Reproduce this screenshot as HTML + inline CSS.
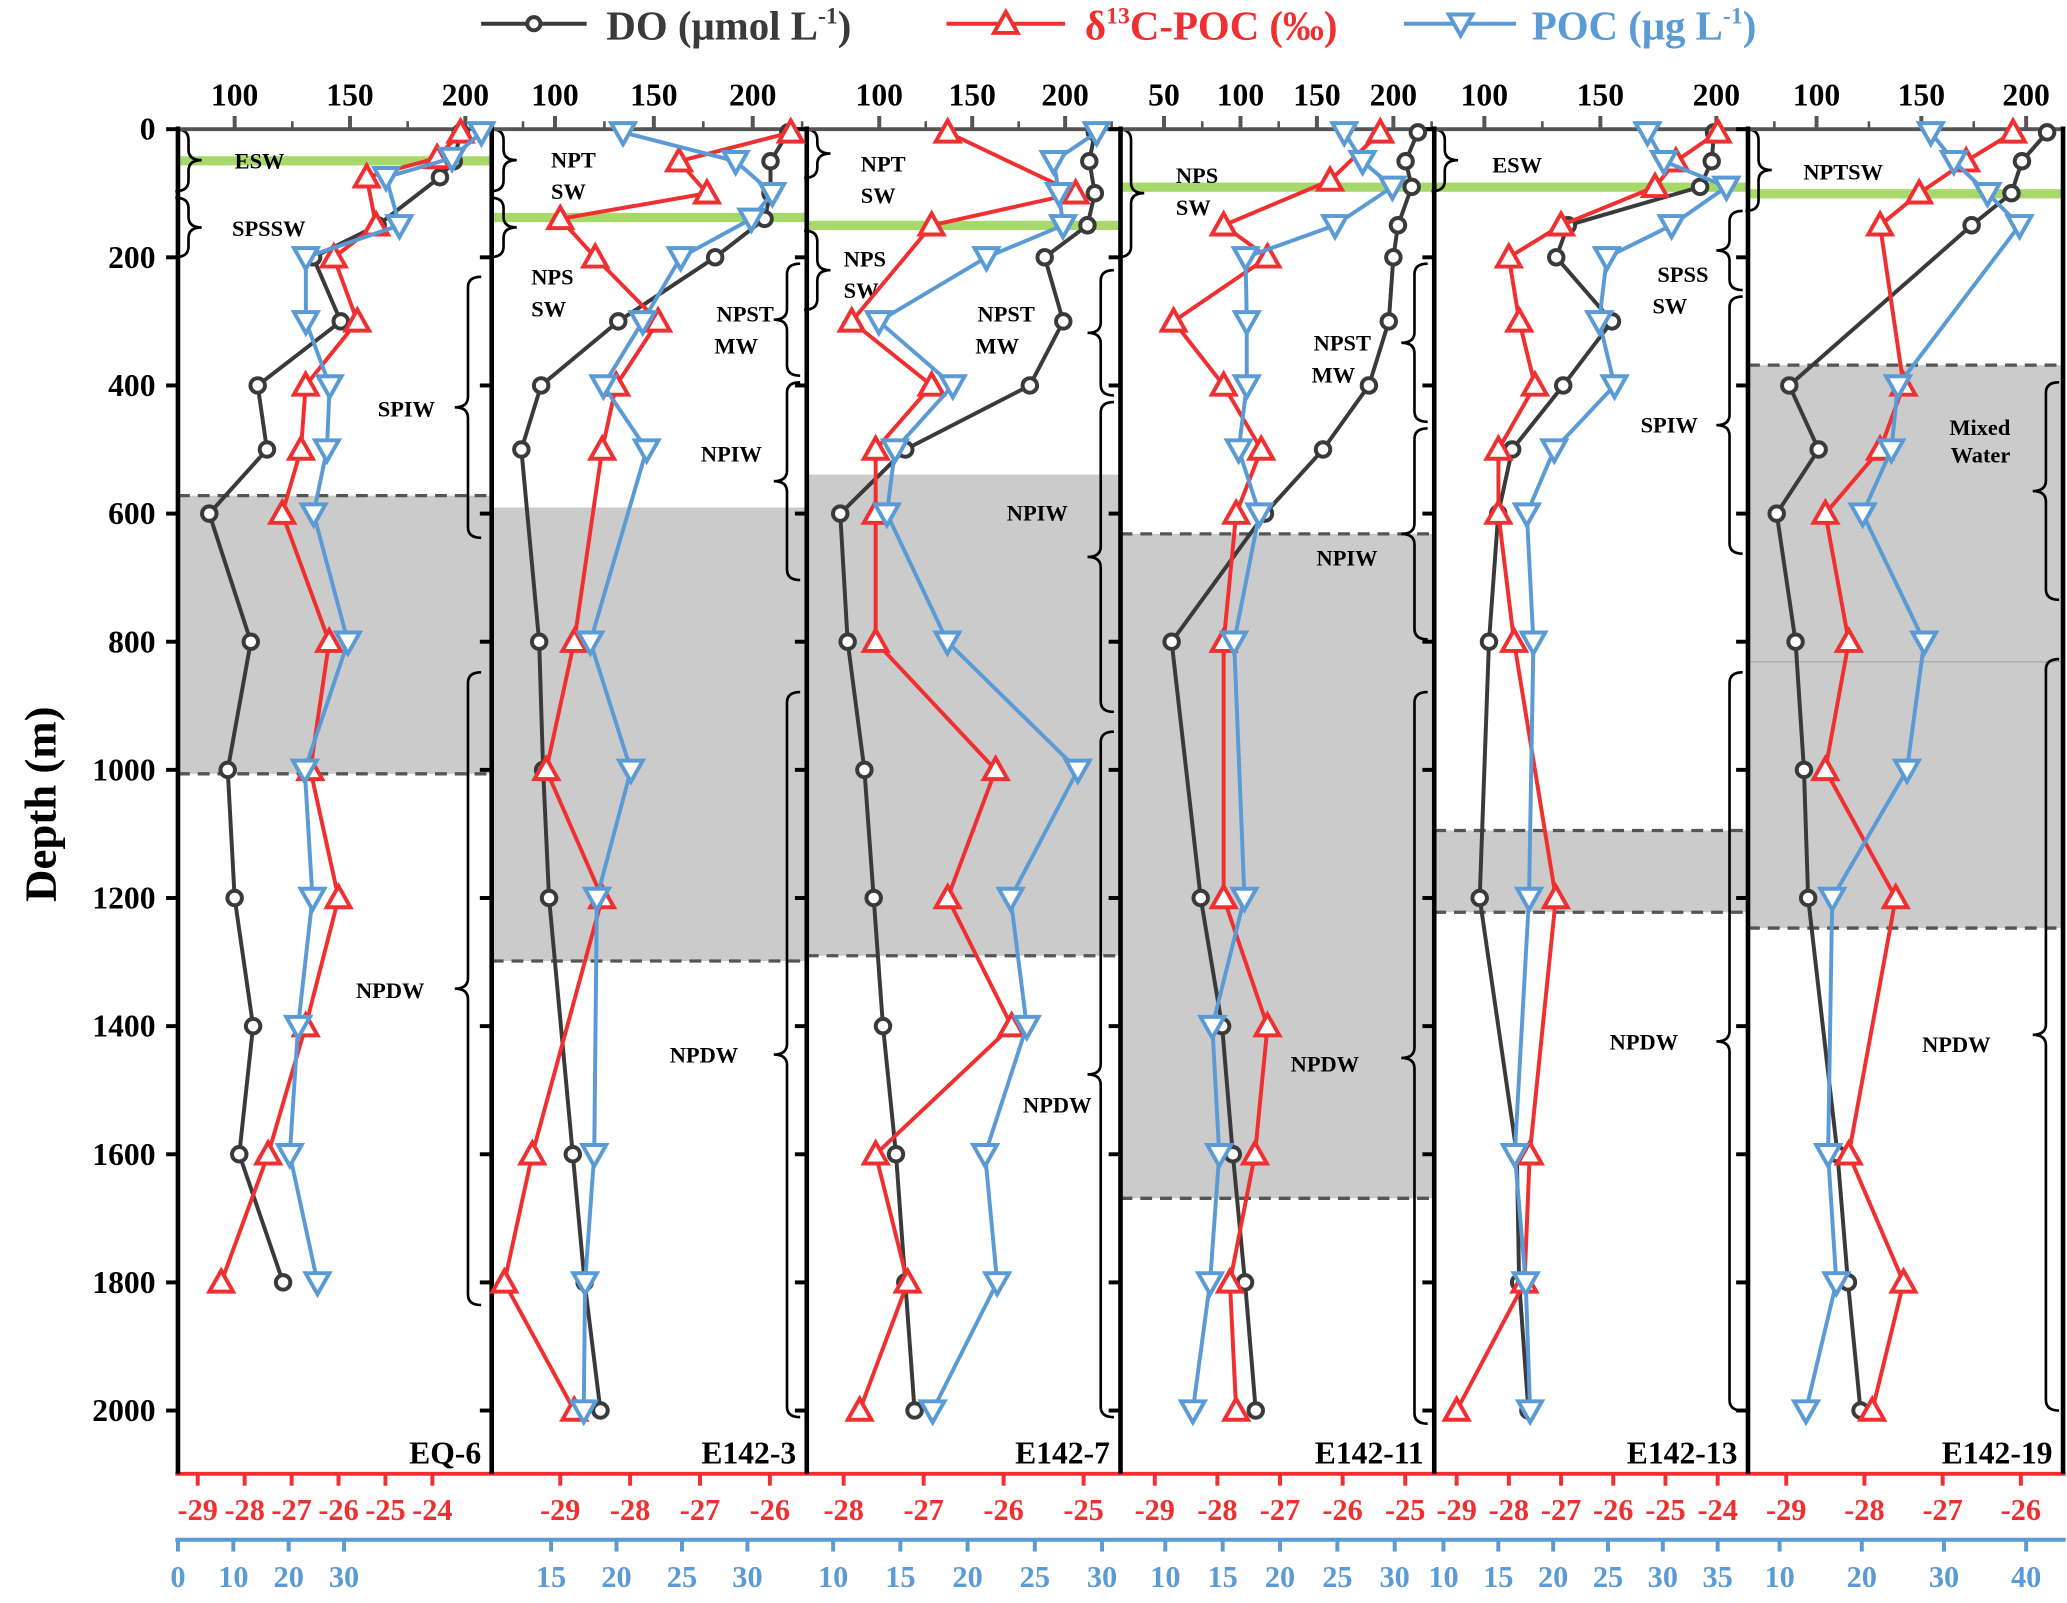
<!DOCTYPE html>
<html><head><meta charset="utf-8"><title>Depth profiles</title>
<style>
html,body{margin:0;padding:0;background:#fff;overflow:hidden;}
svg{display:block;}
text{font-family:"Liberation Serif",serif;font-weight:bold;}
</style></head>
<body>
<svg id="chart" width="2067" height="1603" viewBox="0 0 1568 1216" preserveAspectRatio="none" xmlns="http://www.w3.org/2000/svg">
<g id="bg"></g>
<g id="axes"></g>
<g id="marks"></g>
<g id="legend">
  <line x1="365" y1="18" x2="445" y2="18" stroke="#3a3a3a" stroke-width="3"/>
  <circle cx="405" cy="18" r="5" fill="#fff" stroke="#3a3a3a" stroke-width="3"/>
  <text x="460" y="30" font-size="31" fill="#3a3a3a">DO (μmol L<tspan dy="-12" font-size="18">-1</tspan><tspan dy="12">)</tspan></text>
  <line x1="718" y1="18" x2="808" y2="18" stroke="#f03030" stroke-width="3"/>
  <polygon points="763,9 772,25 754,25" fill="#fff" stroke="#f03030" stroke-width="3"/>
  <text x="823" y="30" font-size="31" fill="#f03030">δ<tspan dy="-12" font-size="18">13</tspan><tspan dy="12">C-POC (‰)</tspan></text>
  <line x1="1065" y1="18" x2="1150" y2="18" stroke="#5b9bd5" stroke-width="3"/>
  <polygon points="1099,11 1117,11 1108,27" fill="#fff" stroke="#5b9bd5" stroke-width="3"/>
  <text x="1162" y="30" font-size="31" fill="#5b9bd5">POC (μg L<tspan dy="-12" font-size="18">-1</tspan><tspan dy="12">)</tspan></text>
</g>
<text transform="translate(42,610) rotate(-90)" text-anchor="middle" font-size="34" fill="#000">Depth (m)</text>
</svg>
<script>
// ---- Data ----
const depthTicks = [0,200,400,600,800,1000,1200,1400,1600,1800,2000];
const stationNames = ["EQ-6","E142-3","E142-7","E142-11","E142-13","E142-19"];

const eq6DoDepth = [5,50,75,150,200,300,400,500,600,800,1000,1200,1400,1600,1800];
const eq6Do = [198,195,189,162,134,146,110,114,89,107,97,100,108,102,121];
const eq6C13Depth = [5,45,75,150,200,300,400,500,600,800,1000,1200,1400,1600,1800];
const eq6C13 = [-23.4,-23.9,-25.4,-25.2,-26.1,-25.6,-26.7,-26.8,-27.2,-26.2,-26.6,-26.0,-26.7,-27.5,-28.5];
const eq6PocDepth = [5,45,75,150,200,300,400,500,600,800,1000,1200,1400,1600,1800];
const eq6Poc = [54.8,49.5,37.6,40.0,23.1,23.1,27.4,26.9,24.5,30.7,22.9,24.3,21.7,20.2,25.2];

const e3Depth = [5,50,100,140,200,300,400,500,800,1000,1200,1600,1800,2000];
const e3Do = [218,209,209,206,181,132,93,83,92,94,97,109,115,123];
const e3C13 = [-25.7,-27.3,-26.9,-29.0,-28.5,-27.6,-28.2,-28.4,-28.8,-29.2,-28.4,-29.4,-29.8,-28.8];
const e3Poc = [20.5,29.1,31.9,30.3,24.9,22.0,19.0,22.3,18.0,21.1,18.5,18.3,17.6,17.5];

const e7Depth = [5,50,100,150,200,300,400,500,600,800,1000,1200,1400,1600,1800,2000];
const e7Do = [216,213,216,212,189,199,181,114,79,83,92,97,102,109,114,119];
const e7C13Depth = [5,100,150,300,400,500,600,800,1000,1200,1400,1600,1800,2000];
const e7C13 = [-26.7,-25.1,-26.9,-27.9,-26.9,-27.6,-27.6,-27.6,-26.1,-26.7,-25.9,-27.6,-27.2,-27.8];
const e7Poc = [29.6,26.4,26.8,27.1,21.4,13.4,18.9,14.6,14.0,18.5,28.2,23.2,24.4,21.3,22.2,17.4];

const e11Depth = [5,50,90,150,200,300,400,500,600,800,1200,1400,1600,1800,2000];
const e11Do = [216,208,212,203,200,197,184,154,116,55,74,88,95,103,110];
const e11C13Depth = [5,80,150,200,300,400,500,600,800,1200,1400,1600,1800,2000];
const e11C13 = [-25.4,-26.2,-27.9,-27.2,-28.7,-27.9,-27.3,-27.7,-27.9,-27.9,-27.2,-27.4,-27.8,-27.7];
const e11Poc = [25.6,27.2,29.8,24.8,17.0,17.1,17.1,16.4,18.2,16.0,16.9,14.1,14.7,13.9,12.4];

const e13Depth = [5,50,90,150,200,300,400,500,600,800,1200,1600,1800,2000];
const e13Do = [199,198,193,136,131,155,134,112,106,102,98,114,115,119];
const e13C13 = [-24.0,-24.8,-25.2,-27.0,-28.0,-27.8,-27.5,-28.2,-28.2,-27.9,-27.1,-27.6,-27.7,-29.0];
const e13Poc = [28.6,30.1,35.8,30.8,24.9,24.2,25.6,20.1,17.6,18.2,17.8,16.5,17.5,17.9];

const e19Depth = [5,50,100,150,400,500,600,800,1000,1200,1600,1800,2000];
const e19Do = [210,198,193,174,87,101,81,90,94,96,110,115,121];
const e19C13 = [-26.1,-26.7,-27.3,-27.8,-27.5,-27.8,-28.5,-28.2,-28.5,-27.6,-28.2,-27.5,-27.9];
const e19Poc = [28.4,31.2,35.3,39.2,24.4,23.6,20.1,27.6,25.5,16.4,15.9,16.9,13.2];

// Axis tick values
const doTicks = [[100,150,200],[100,150,200],[100,150,200],[50,100,150,200],[100,150,200],[100,150,200]];
const c13Ticks = [[-29,-28,-27,-26,-25,-24],[-29,-28,-27,-26],[-28,-27,-26,-25],[-29,-28,-27,-26,-25],[-29,-28,-27,-26,-25,-24],[-29,-28,-27,-26]];
const pocTicks = [[0,10,20,30],[15,20,25,30],[10,15,20,25,30],[10,15,20,25,30],[10,15,20,25,30,35],[10,20,30,40]];

// ---- Layout / calibration ----
const NS = "http://www.w3.org/2000/svg";
const edges = [135,373,612,850,1088,1326,1565];
const Y0 = 98, Y1 = 1070;
function yScale(d){ return Y0 + (d/2000)*(Y1-Y0); }
const doCal = [[100,178,200,353],[100,421,200,571],[100,667,200,808],[50,883,200,1057],[100,1126,200,1302],[100,1378,200,1537]];
const c13Cal = [[-29,150,-24,328],[-29,425,-26,584],[-28,640,-25,822],[-29,876,-25,1066],[-29,1105,-24,1303],[-29,1355,-26,1533]];
const pocCal = [[0,135,30,261],[15,418,30,567],[10,632,30,836],[10,884,30,1058],[10,1095,35,1303],[10,1350,40,1537]];
function mk(c){ return v => c[1] + (v-c[0])*(c[3]-c[1])/(c[2]-c[0]); }

const panels = [
 {do:[eq6DoDepth,eq6Do], c13:[eq6C13Depth,eq6C13], poc:[eq6PocDepth,eq6Poc]},
 {do:[e3Depth,e3Do], c13:[e3Depth,e3C13], poc:[e3Depth,e3Poc]},
 {do:[e7Depth,e7Do], c13:[e7C13Depth,e7C13], poc:[e7Depth,e7Poc]},
 {do:[e11Depth,e11Do], c13:[e11C13Depth,e11C13], poc:[e11Depth,e11Poc]},
 {do:[e13Depth,e13Do], c13:[e13Depth,e13C13], poc:[e13Depth,e13Poc]},
 {do:[e19Depth,e19Do], c13:[e19Depth,e19C13], poc:[e19Depth,e19Poc]}
];

function el(tag, attrs, parent){
  const e = document.createElementNS(NS, tag);
  for (const k in attrs) e.setAttribute(k, attrs[k]);
  parent.appendChild(e);
  return e;
}
const bg = document.getElementById('bg');
const axes = document.getElementById('axes');
const marks = document.getElementById('marks');

const shades = [[0,376,587,1,1],[1,385,729,0,1],[2,360,725,0,1],[3,405,909,1,1],[4,630,692,1,1],[5,277,704,1,1]];
shades.forEach(s=>{
  const r = el('rect',{x:edges[s[0]],y:s[1],width:edges[s[0]+1]-edges[s[0]],height:s[2]-s[1],fill:'#cbcbcb'},bg);
  
  
  [[s[1],s[3]],[s[2],s[4]]].forEach(p=>{
    if(!p[1]) return;
    const l = el('line',{x1:edges[s[0]],x2:edges[s[0]+1],y1:p[0],y2:p[0],stroke:'#555','stroke-width':2.5,'stroke-dasharray':'9,6'},bg);
    
    
  });
});
const l6 = el('line',{x1:1326,x2:1565,y1:502,y2:502,stroke:'#aaa','stroke-width':1},bg);


const greens = [[0,122],[1,165],[2,171],[3,142],[4,142],[5,147]];
greens.forEach(g=>{
  const r = el('rect',{x:edges[g[0]],y:g[1]-3.5,width:edges[g[0]+1]-edges[g[0]],height:7,fill:'#a6d96a'},bg);
  
  
});

const braces = [
 [143,98,145,1],[143,150,195,1],[355,210,408,-1],[355,510,990,-1],
 [382,98,145,1],[382,150,195,1],[597,200,285,-1],[597,290,440,-1],[597,525,1075,-1],
 [620,98,135,1],[620,175,235,1],[835,205,300,-1],[835,305,540,-1],[835,555,1075,-1],
 [858,98,195,1],[1073,200,320,-1],[1073,325,485,-1],[1073,525,1080,-1],
 [1096,98,145,1],[1312,160,220,-1],[1312,225,420,-1],[1312,510,1070,-1],
 [1334,98,160,1],[1552,290,455,-1],[1552,500,1070,-1]
];
braces.forEach(b=>{
  const [x,t,bt,d] = b, m=(t+bt)/2, w=10*d;
  const p = `M${x-w},${t} Q${x},${t} ${x},${t+8} L${x},${m-8} Q${x},${m} ${x+w},${m} Q${x},${m} ${x},${m+8} L${x},${bt-8} Q${x},${bt} ${x-w},${bt}`;
  const e = el('path',{d:p,fill:'none',stroke:'#000','stroke-width':2},axes);
  
  
});
const wmLabels = [
 ["ESW",178,128,"start"],["SPSSW",176,179,"start"],["SPIW",330,316,"end"],["NPDW",322,757,"end"],
 ["NPT",418,127,"start"],["SW",418,151,"start"],["NPS",403,216,"start"],["SW",403,240,"start"],["NPST",587,244,"end"],["MW",575,268,"end"],["NPIW",578,350,"end"],["NPDW",560,806,"end"],
 ["NPT",653,130,"start"],["SW",653,154,"start"],["NPS",640,202,"start"],["SW",640,226,"start"],["NPST",785,244,"end"],["MW",773,268,"end"],["NPIW",810,395,"end"],["NPDW",828,844,"end"],
 ["NPS",892,139,"start"],["SW",892,163,"start"],["NPST",1040,266,"end"],["MW",1028,290,"end"],["NPIW",1045,429,"end"],["NPDW",1031,813,"end"],
 ["ESW",1132,131,"start"],["SPSS",1296,214,"end"],["SW",1280,238,"end"],["SPIW",1288,328,"end"],["NPDW",1273,796,"end"],
 ["NPTSW",1368,136,"start"],["Mixed",1525,330,"end"],["Water",1525,351,"end"],["NPDW",1510,798,"end"]
];
wmLabels.forEach(l=>{
  const t = el('text',{x:l[1],y:l[2],'text-anchor':l[3],'font-size':17,fill:'#000'},axes);
  t.textContent = l[0];
  
  
});

const topLine = el('line',{x1:135,x2:1565,y1:Y0,y2:Y0,stroke:'#555','stroke-width':3},axes);


const redLine = el('line',{x1:133,x2:1567,y1:1118,y2:1118,stroke:'#f03030','stroke-width':3},axes);


const blueLine = el('line',{x1:133,x2:1567,y1:1168,y2:1168,stroke:'#5b9bd5','stroke-width':3},axes);



for(let i=0;i<6;i++){
  const bl = el('line',{x1:edges[i],x2:edges[i],y1:Y0-2,y2:1118,stroke:'#000','stroke-width':3.5},axes);
  
  
  depthTicks.forEach(d=>{
    const t = el('line',{x1:edges[i]-9,x2:edges[i],y1:yScale(d),y2:yScale(d),stroke:'#000','stroke-width':3},axes);
    
    
  });
  const dx = mk(doCal[i]), cx = mk(c13Cal[i]), px = mk(pocCal[i]);
  doTicks[i].forEach(v=>{
    const t = el('line',{x1:dx(v),x2:dx(v),y1:Y0,y2:Y0-10,stroke:'#555','stroke-width':3},axes);
    
    
    const m = el('line',{x1:dx(v+25),x2:dx(v+25),y1:Y0,y2:Y0-6,stroke:'#555','stroke-width':2},axes);
    
    
    const tx = el('text',{x:dx(v),y:80,'text-anchor':'middle','font-size':24,fill:'#000'},axes);
    tx.textContent = v;
    
    
  });
  c13Ticks[i].forEach(v=>{
    const t = el('line',{x1:cx(v),x2:cx(v),y1:1118,y2:1127,stroke:'#f03030','stroke-width':3},axes);
    
    
    const tx = el('text',{x:cx(v),y:1153,'text-anchor':'middle','font-size':23,fill:'#f03030'},axes);
    tx.textContent = v;
    
    
  });
  pocTicks[i].forEach(v=>{
    const t = el('line',{x1:px(v),x2:px(v),y1:1168,y2:1177,stroke:'#5b9bd5','stroke-width':3},axes);
    
    
    const tx = el('text',{x:px(v),y:1204,'text-anchor':'middle','font-size':23,fill:'#5b9bd5'},axes);
    tx.textContent = v;
    
    
  });
  const st = el('text',{x:edges[i+1]-8,y:1110,'text-anchor':'end','font-size':24,fill:'#000'},axes);
  st.textContent = stationNames[i];
  
  
}
const lastBorder = el('line',{x1:1565,x2:1565,y1:Y0-2,y2:1118,stroke:'#000','stroke-width':3.5},axes);


depthTicks.forEach(d=>{
  const t = el('text',{x:118,y:yScale(d)+8,'text-anchor':'end','font-size':24,fill:'#000'},axes);
  t.textContent = d;
  
  
});

function drawSeries(depths, vals, xf, color, kind, name){
  const g = el('g',{},marks);
  
  
  const pts = depths.map((d,k)=>[xf(vals[k]), yScale(d)]);
  const pl = el('polyline',{points:pts.map(p=>p.join(',')).join(' '),fill:'none',stroke:color,'stroke-width':3,'stroke-linejoin':'round'},g);
  
  
  pts.forEach(p=>{
    let m;
    if(kind==='c') m = el('circle',{cx:p[0],cy:p[1],r:5.5,fill:'#fff',stroke:color,'stroke-width':3},g);
    else if(kind==='u') m = el('polygon',{points:`${p[0]},${p[1]-9} ${p[0]+9},${p[1]+7} ${p[0]-9},${p[1]+7}`,fill:'#fff',stroke:color,'stroke-width':3},g);
    else m = el('polygon',{points:`${p[0]-9},${p[1]-7} ${p[0]+9},${p[1]-7} ${p[0]},${p[1]+9}`,fill:'#fff',stroke:color,'stroke-width':3},g);
    
    
  });
}
panels.forEach((p,i)=>{
  drawSeries(p.do[0], p.do[1], mk(doCal[i]), '#3a3a3a', 'c', 'do-series');
  drawSeries(p.c13[0], p.c13[1], mk(c13Cal[i]), '#f03030', 'u', 'd13c-series');
  drawSeries(p.poc[0], p.poc[1], mk(pocCal[i]), '#5b9bd5', 'd', 'poc-series');
});
</script>
</body></html>
